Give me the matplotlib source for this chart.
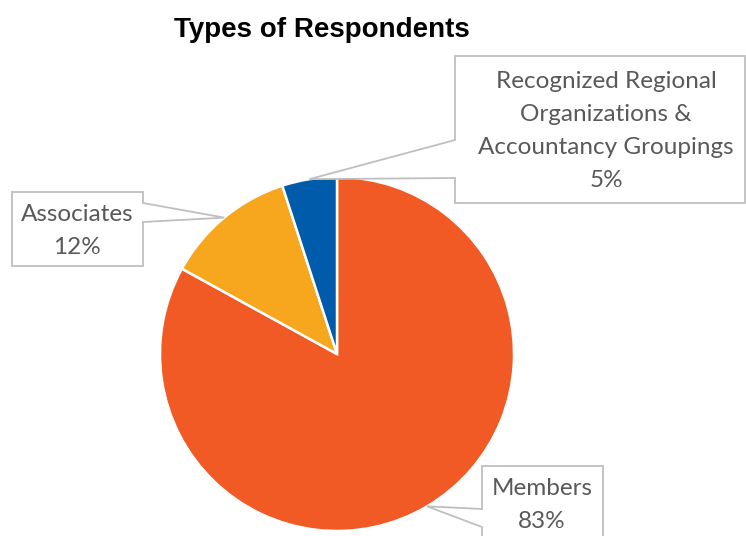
import numpy as np
import matplotlib
matplotlib.use("Agg")
import matplotlib.pyplot as plt
from matplotlib.patches import Polygon

# respondent groups, share in percent
groups = ["Members", "Associates",
          "Recognized Regional\nOrganizations &\nAccountancy Groupings"]
shares = [83, 12, 5]
colors = ["#F15A24", "#F7A71E", "#005BAA"]

W, H = 746, 536
fig = plt.figure(figsize=(W / 100, H / 100), dpi=100)
ax = fig.add_axes([0, 0, 1, 1])

cx, cy, R = 337, 354, 177   # pie centre / radius, pixels from top-left

def fy(y):
    return H - y

wedges, _ = ax.pie(shares, colors=colors, startangle=90, counterclock=False,
                   center=(cx, fy(cy)), radius=R,
                   wedgeprops=dict(edgecolor="white", linewidth=1.8))
ax.set_xlim(0, W)
ax.set_ylim(0, H)
ax.set_aspect("auto")
ax.axis("off")

# callout boxes: (left, top, right, bottom), pointer side, pointer base y range, text centre
boxes = [
    dict(box=(482, 466, 603, 545), side="left", base=(509, 527), text=(542, 505)),
    dict(box=(12, 192, 143, 266), side="right", base=(203, 222), text=(77, 231)),
    dict(box=(455, 56, 745, 203), side="left", base=(140, 178), text=(606, 131)),
]

for w, g, s, b in zip(wedges, groups, shares, boxes):
    mid = np.deg2rad((w.theta1 + w.theta2) / 2)
    tip = (cx + R * np.cos(mid), cy - R * np.sin(mid))
    x0, y0, x1, y1 = b["box"]
    ya, yb = b["base"]
    if b["side"] == "left":
        pts = [(x0, y0), (x1, y0), (x1, y1), (x0, y1), (x0, yb), tip, (x0, ya)]
    else:
        pts = [(x0, y0), (x1, y0), (x1, ya), tip, (x1, yb), (x1, y1), (x0, y1)]
    pts = [(px, fy(py)) for px, py in pts]
    ax.add_patch(Polygon(pts, closed=True, facecolor="white", edgecolor="#BFBFBF",
                         linewidth=1.3, zorder=5))
    tx, ty = b["text"]
    ax.text(tx, fy(ty), f"{g}\n{s}%", ha="center", va="center", fontsize=17.5,
            family="Lato", color="#595959", linespacing=1.72, zorder=6)

ax.text(322, fy(30), "Types of Respondents", ha="center", va="center",
        fontsize=20, fontweight="bold", family="Liberation Sans", color="black")

fig.savefig("out.png", dpi=100)
